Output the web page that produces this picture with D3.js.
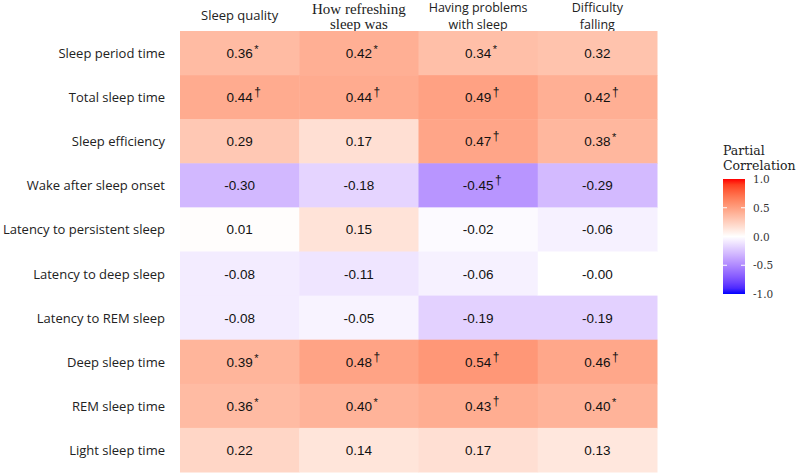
<!DOCTYPE html>
<html>
<head>
<meta charset="utf-8">
<script src="https://cdn.jsdelivr.net/npm/d3@7"></script>
<style>
  body { margin: 0; background: #fff; }
</style>
</head>
<body>
<div id="chart"></div>
<script>
// filas y columnas del heatmap
const rowLabels = ["Sleep period time", "Total sleep time", "Sleep efficiency", "Wake after sleep onset",
  "Latency to persistent sleep", "Latency to deep sleep", "Latency to REM sleep",
  "Deep sleep time", "REM sleep time", "Light sleep time"];
const colKeys = ["quality", "refreshing", "problems", "falling"];
const colHeaders = [["Sleep quality"], ["How refreshing", "sleep was"], ["Having problems", "with sleep"], ["Difficulty", "falling"]];

// correlaciones parciales por columna (mismo orden que rowLabels)
const quality    = [0.36, 0.44, 0.29, -0.30, 0.01, -0.08, -0.08, 0.39, 0.36, 0.22];
const refreshing = [0.42, 0.44, 0.17, -0.18, 0.15, -0.11, -0.05, 0.48, 0.40, 0.14];
const problems   = [0.34, 0.49, 0.47, -0.45, -0.02, -0.06, -0.19, 0.54, 0.43, 0.17];
const falling    = [0.32, 0.42, 0.38, -0.29, -0.06, -0.001, -0.19, 0.46, 0.40, 0.13];

// marcas de significancia
const qualitySig    = ["*", "†", "", "", "", "", "", "*", "*", ""];
const refreshingSig = ["*", "†", "", "", "", "", "", "†", "*", ""];
const problemsSig   = ["*", "†", "†", "†", "", "", "", "†", "†", ""];
const fallingSig    = ["", "†", "*", "", "", "", "", "†", "*", ""];

const legendTicks = [1.0, 0.5, 0.0, -0.5, -1.0];

const series = { quality, refreshing, problems, falling };
const sigs = { quality: qualitySig, refreshing: refreshingSig, problems: problemsSig, falling: fallingSig };

const data = [];
colKeys.forEach((k, j) => {
  series[k].forEach((v, i) => {
    data.push({ row: rowLabels[i], col: k, value: v, sig: sigs[k][i] });
  });
});

const W = 798, H = 474;
const gridLeft = 180, gridRight = 657, gridTop = 31, gridBottom = 472;

const svg = d3.select("#chart").append("svg")
  .attr("width", W)
  .attr("height", H);

const x = d3.scaleBand().domain(colKeys).range([gridLeft, gridRight]);
const y = d3.scaleBand().domain(rowLabels).range([gridTop, gridBottom]);

// escala divergente azul - blanco - rojo (interpolación Lab)
const color = d3.scaleLinear()
  .domain([-1, 0, 1])
  .range(["blue", "white", "red"])
  .interpolate(d3.interpolateLab)
  .clamp(true);

// encabezados de columna (se dibujan antes para que las celdas los tapen)
const headerFonts = ["'Open Sans', sans-serif", "'Liberation Serif', serif", "'Open Sans', sans-serif", "'Open Sans', sans-serif"];
colKeys.forEach((k, j) => {
  const lines = colHeaders[j];
  const ys = lines.length === 1 ? [20] : (j === 1 ? [14, 29] : [12, 29]);
  lines.forEach((l, li) => {
    svg.append("text")
      .attr("x", x(k) + x.bandwidth() / 2)
      .attr("y", ys[li])
      .attr("text-anchor", "middle")
      .attr("font-family", headerFonts[j])
      .style("font-size", j === 1 ? "15px" : (lines.length === 1 ? "13px" : "12.5px"))
      .attr("fill", "#222")
      .text(l);
  });
});

// celdas
svg.append("g").selectAll("rect")
  .data(data)
  .enter()
  .append("rect")
  .attr("x", d => x(d.col))
  .attr("y", d => y(d.row))
  .attr("width", x.bandwidth() + 0.5)
  .attr("height", y.bandwidth() + 0.5)
  .style("fill", d => color(d.value));

// valores
const labels = svg.append("g").selectAll("g")
  .data(data)
  .enter()
  .append("g");

labels.append("text")
  .attr("class", "val")
  .attr("x", d => x(d.col) + x.bandwidth() / 2)
  .attr("y", d => y(d.row) + y.bandwidth() / 2 + 5)
  .attr("text-anchor", "middle")
  .attr("font-family", "'Liberation Sans', Arial, sans-serif")
  .style("font-size", "13.5px")
  .attr("fill", "#111")
  .text(d => d.value.toFixed(2));

labels.each(function (d) {
  if (!d.sig) return;
  const g = d3.select(this);
  const w = g.select("text.val").node().getComputedTextLength();
  g.append("text")
    .attr("x", x(d.col) + x.bandwidth() / 2 + w / 2 + 1.5)
    .attr("y", y(d.row) + y.bandwidth() / 2 + (d.sig === "*" ? 0 : -1))
    .attr("font-family", "'Liberation Sans', Arial, sans-serif")
    .style("font-size", d.sig === "*" ? "11px" : "12px")
    .attr("fill", "#111")
    .text(d.sig);
});

// etiquetas de fila
svg.append("g").selectAll("text")
  .data(rowLabels)
  .enter()
  .append("text")
  .attr("x", 165)
  .attr("y", d => y(d) + y.bandwidth() / 2 + 5)
  .attr("text-anchor", "end")
  .attr("font-family", "'Open Sans', sans-serif")
  .style("font-size", "13px")
  .attr("fill", "#222")
  .text(d => d);

// leyenda
const lx = 723, lw = 22, ly0 = 179, ly1 = 294;
const ly = d3.scaleLinear().domain([1, -1]).range([ly0, ly1]);

const defs = svg.append("defs");
const grad = defs.append("linearGradient")
  .attr("id", "legendGrad")
  .attr("x1", 0).attr("y1", 0).attr("x2", 0).attr("y2", 1);
d3.range(0, 21).forEach(i => {
  const v = 1 - i / 10;
  grad.append("stop").attr("offset", (i / 20 * 100) + "%").attr("stop-color", color(v));
});

svg.append("rect")
  .attr("x", lx).attr("y", ly0)
  .attr("width", lw).attr("height", ly1 - ly0)
  .style("fill", "url(#legendGrad)");

legendTicks.forEach(t => {
  if (Math.abs(t) === 1) return;
  svg.append("line")
    .attr("x1", lx).attr("x2", lx + 4)
    .attr("y1", ly(t)).attr("y2", ly(t))
    .style("stroke", "white").style("stroke-width", 1);
  svg.append("line")
    .attr("x1", lx + lw - 4).attr("x2", lx + lw)
    .attr("y1", ly(t)).attr("y2", ly(t))
    .style("stroke", "white").style("stroke-width", 1);
});

svg.append("g").selectAll("text")
  .data(legendTicks)
  .enter()
  .append("text")
  .attr("x", 753)
  .attr("y", d => ly(d) + 4)
  .attr("font-family", "'DejaVu Serif', serif")
  .style("font-size", "10.5px")
  .attr("fill", "#333")
  .text(d => d.toFixed(1));

svg.append("text")
  .attr("x", lx)
  .attr("y", 155)
  .attr("font-family", "'DejaVu Serif', serif")
  .style("font-size", "12.5px")
  .attr("fill", "#222")
  .text("Partial");
svg.append("text")
  .attr("x", lx)
  .attr("y", 170)
  .attr("font-family", "'DejaVu Serif', serif")
  .style("font-size", "12.5px")
  .attr("fill", "#222")
  .text("Correlation");
</script>
</body>
</html>
